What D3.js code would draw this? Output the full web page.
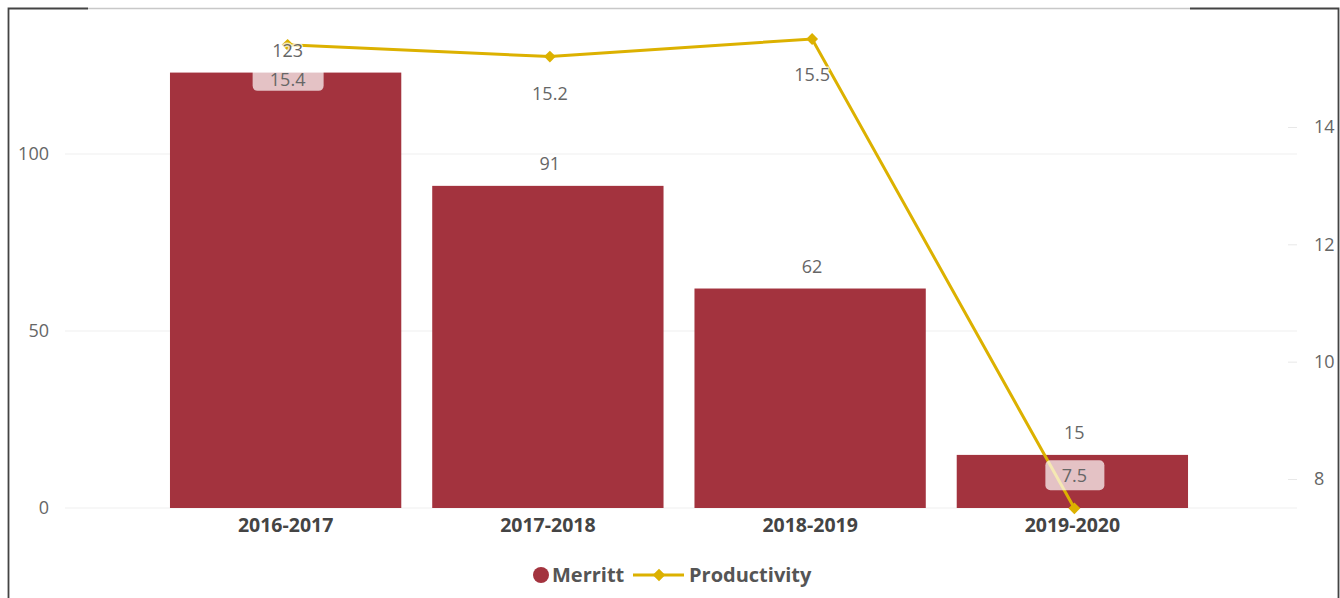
<!DOCTYPE html>
<html>
<head>
<meta charset="utf-8">
<script src="https://cdn.jsdelivr.net/npm/d3@7"></script>
<style>
  body { margin: 0; background: #fff; }
  svg { font-family: "Segoe UI", "Open Sans", sans-serif; }
</style>
</head>
<body>
<div id="chart"></div>
<script>
// data
var years = ["2016-2017", "2017-2018", "2018-2019", "2019-2020"];
var merritt = [123, 91, 62, 15];
var productivity = [15.4, 15.2, 15.5, 7.5];
var leftTicks = [0, 50, 100];
var rightTicks = [8, 10, 12, 14];

var W = 1340, H = 598;
var baseY = 508;
var font = '"Segoe UI", "Open Sans", sans-serif';

var svg = d3.select("#chart").append("svg")
    .attr("width", W)
    .attr("height", H);

// frame around the visual
var frame = svg.append("g");
frame.append("line").attr("x1", 88).attr("x2", 1190).attr("y1", 8.5).attr("y2", 8.5)
    .attr("stroke", "#c8c8c8").attr("stroke-width", 1.5);
frame.append("path").attr("d", "M8.5,600 V8.5 H88")
    .attr("fill", "none").attr("stroke", "#444").attr("stroke-width", 1.8);
frame.append("path").attr("d", "M1190,8.5 H1338.5 V600")
    .attr("fill", "none").attr("stroke", "#444").attr("stroke-width", 1.8);

// scales
var x = d3.scaleBand()
    .domain(years)
    .range([154.5, 1203.5])
    .paddingInner(0.118)
    .paddingOuter(0.059);

var yL = d3.scaleLinear()
    .domain([0, 50])
    .range([baseY, 331]);

var yR = d3.scaleLinear()
    .domain([8, 14])
    .range([479, 127]);

// gridlines (left axis)
svg.append("g")
  .selectAll("line")
  .data(leftTicks)
  .enter().append("line")
    .attr("x1", 65).attr("x2", 1297)
    .attr("y1", function(d) { return yL(d); })
    .attr("y2", function(d) { return yL(d); })
    .attr("stroke", "#efefef").attr("stroke-width", 1.2);

// left axis
var gL = svg.append("g")
    .attr("transform", "translate(58,0)")
    .call(d3.axisLeft(yL).tickValues(leftTicks).tickSize(0).tickPadding(9));
gL.attr("font-family", font).attr("font-size", 18);
gL.select(".domain").remove();
gL.selectAll("text").attr("fill", "#666");

// right axis
var gR = svg.append("g")
    .attr("transform", "translate(1297,0)")
    .call(d3.axisLeft(yR).tickValues(rightTicks).tickFormat(d3.format("d")).tickSize(9).tickPadding(0));
gR.attr("font-family", font).attr("font-size", 18);
gR.select(".domain").remove();
gR.selectAll("line").attr("stroke", "#e8e8e8");
gR.selectAll("text")
    .attr("text-anchor", "start")
    .attr("x", 17)
    .attr("fill", "#666");

// x axis
var gX = svg.append("g")
    .attr("transform", "translate(0," + baseY + ")")
    .call(d3.axisBottom(x).tickSize(0).tickPadding(10));
gX.attr("font-family", font).attr("font-size", 19.5).attr("font-weight", "bold");
gX.select(".domain").remove();
gX.selectAll("text").attr("fill", "#444");

// bars
svg.append("g")
  .selectAll("rect")
  .data(merritt)
  .enter().append("rect")
    .attr("x", function(d, i) { return x(years[i]); })
    .attr("y", function(d) { return yL(d); })
    .attr("width", x.bandwidth())
    .attr("height", function(d) { return baseY - yL(d); })
    .attr("fill", "#a3333e");

// line
var cx = function(i) { return x(years[i]) + x.bandwidth() / 2 + 2; };
var line = d3.line()
    .x(function(d, i) { return cx(i); })
    .y(function(d) { return yR(d); });

svg.append("path")
    .datum(productivity)
    .attr("d", line)
    .attr("fill", "none")
    .attr("stroke", "#dcb100")
    .attr("stroke-width", 3);

svg.append("g")
  .selectAll("path")
  .data(productivity)
  .enter().append("path")
    .attr("d", d3.symbol().type(d3.symbolDiamond2).size(90))
    .attr("transform", function(d, i) { return "translate(" + cx(i) + "," + yR(d) + ")"; })
    .attr("fill", "#dcb100");

// bar value labels
svg.append("g")
  .selectAll("text")
  .data(merritt)
  .enter().append("text")
    .attr("x", function(d, i) { return x(years[i]) + x.bandwidth() / 2 + 2; })
    .attr("y", function(d) { return yL(d) - 16; })
    .attr("text-anchor", "middle")
    .attr("fill", "#666")
    .style("font-size", "18px")
    .style("paint-order", "stroke")
    .attr("stroke", "rgba(255,255,255,0.7)")
    .attr("stroke-width", 3)
    .text(function(d) { return d; });

// line value labels (above or below point)
var lblOffset = [35, 37, 36, -33];
var lbl = svg.append("g")
  .selectAll("g")
  .data(productivity)
  .enter().append("g")
    .attr("transform", function(d, i) {
      return "translate(" + cx(i) + "," + (yR(d) + lblOffset[i]) + ")";
    });

lbl.filter(function(d, i) { return i === 0 || i === 3; })
  .append("rect")
    .attr("x", function(d) { return d >= 10 ? -35 : -29; })
    .attr("y", function(d) { return d >= 10 ? -12 : -15; })
    .attr("width", function(d) { return d >= 10 ? 71 : 59; })
    .attr("height", function(d) { return d >= 10 ? 23 : 30; })
    .attr("rx", 5)
    .attr("fill", "rgba(255,255,255,0.7)");

lbl.append("text")
    .attr("dy", "0.35em")
    .attr("text-anchor", "middle")
    .attr("fill", "#666")
    .style("font-size", "18px")
    .style("paint-order", "stroke")
    .attr("stroke", function(d, i) { return i === 2 ? "rgba(255,255,255,0.7)" : "none"; })
    .attr("stroke-width", 3)
    .text(function(d) { return d; });

// legend
var leg = svg.append("g").attr("transform", "translate(0,575)");
leg.append("circle").attr("cx", 541).attr("cy", 0).attr("r", 8).attr("fill", "#a3333e");
leg.append("text").attr("x", 552).attr("dy", "0.35em")
    .attr("fill", "#555").style("font-size", "20px").style("font-weight", "bold")
    .text("Merritt");
leg.append("line").attr("x1", 633).attr("x2", 684).attr("y1", 0).attr("y2", 0)
    .attr("stroke", "#dcb100").attr("stroke-width", 3);
leg.append("path")
    .attr("d", d3.symbol().type(d3.symbolDiamond2).size(100))
    .attr("transform", "translate(659,0)")
    .attr("fill", "#dcb100");
leg.append("text").attr("x", 689).attr("dy", "0.35em")
    .attr("fill", "#555").style("font-size", "20px").style("font-weight", "bold")
    .text("Productivity");
</script>
</body>
</html>
